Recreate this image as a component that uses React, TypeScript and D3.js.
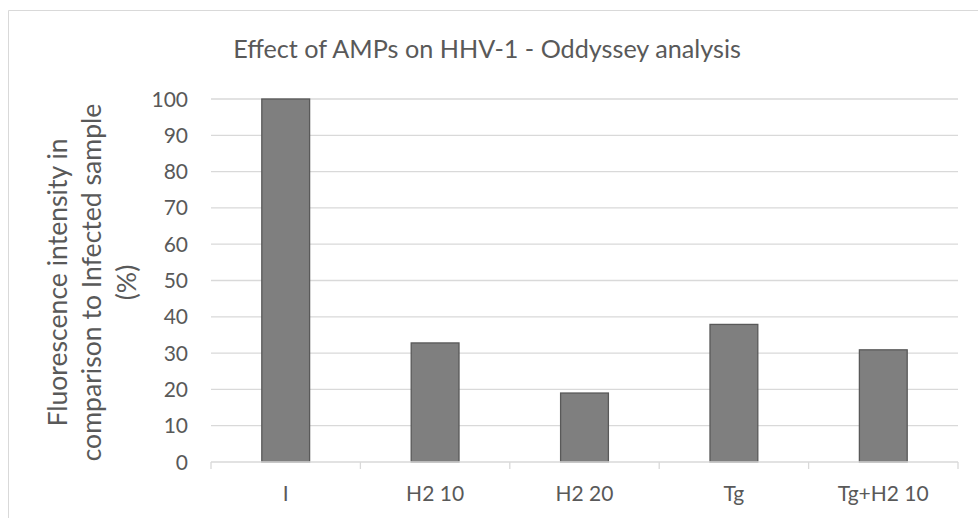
import React from 'react'
import * as d3 from 'd3'

const categories: string[] = ['I', 'H2 10', 'H2 20', 'Tg', 'Tg+H2 10']
const values: number[] = [100, 32.8, 19.0, 37.9, 30.9]
const yTicks: number[] = [0, 10, 20, 30, 40, 50, 60, 70, 80, 90, 100]
const titleText = 'Effect of AMPs on HHV-1 - Oddyssey analysis'
const yTitleLines: string[] = ['Fluorescence intensity in', 'comparison to Infected sample', '(%)']

const width = 978
const height = 518
const plot = { left: 211, right: 958, top: 99, bottom: 462 }
const font = "Lato, 'Open Sans', sans-serif"
const textColor = '#595959'
const gridColor = '#d9d9d9'

export default function App() {
  const x = d3.scaleBand<string>().domain(categories).range([plot.left, plot.right]).padding(0)
  const y = d3.scaleLinear().domain([0, 100]).range([plot.bottom, plot.top])
  const barWidth = x.bandwidth() * 0.32
  const tickEdges = categories.map(c => x(c) as number).concat([plot.right])

  return (
    <svg width={width} height={height} viewBox={`0 0 ${width} ${height}`}
      style={{ position: 'absolute', left: 0, top: 0, display: 'block', background: '#fff' }}>
      {/* chart frame, runs off the page on right and bottom */}
      <path d={`M8.5,${height} L8.5,10.5 L${width},10.5`} fill="none" stroke={gridColor} strokeWidth={1} />

      <text x={487} y={57.5} textAnchor="middle" fontFamily={font} fontSize={25.2} fill={textColor}>{titleText}</text>

      {yTicks.map(t => (
        <g key={`g_${t}`}>
          {t > 0 && <line x1={plot.left} x2={plot.right} y1={y(t)} y2={y(t)} stroke={gridColor} strokeWidth={1.3} />}
          <text x={188} y={y(t)} dy="0.36em" textAnchor="end" fontFamily={font} fontSize={21} fill={textColor}>{t}</text>
        </g>
      ))}

      <g transform={`translate(92,282.5) rotate(-90)`}>
        {yTitleLines.map((line, i) => (
          <text key={line} x={0} y={(i - 1) * 34.5} dy="0.35em" textAnchor="middle" fontFamily={font} fontSize={26.6} fill={textColor}>{line}</text>
        ))}
      </g>

      {categories.map((c, i) => (
        <rect key={c} x={(x(c) as number) + (x.bandwidth() - barWidth) / 2} y={y(values[i])}
          width={barWidth} height={y(0) - y(values[i])} fill="#7f7f7f" stroke="#595959" strokeWidth={1.3} />
      ))}

      <line x1={plot.left} x2={plot.right} y1={plot.bottom} y2={plot.bottom} stroke={gridColor} strokeWidth={1.3} />
      {tickEdges.map((e, i) => (
        <line key={`t_${i}`} x1={e} x2={e} y1={plot.bottom} y2={plot.bottom + 7} stroke={gridColor} strokeWidth={1.3} />
      ))}
      {categories.map(c => (
        <text key={`l_${c}`} x={(x(c) as number) + x.bandwidth() / 2} y={501} textAnchor="middle"
          fontFamily={font} fontSize={21} fill={textColor}>{c}</text>
      ))}
    </svg>
  )
}
